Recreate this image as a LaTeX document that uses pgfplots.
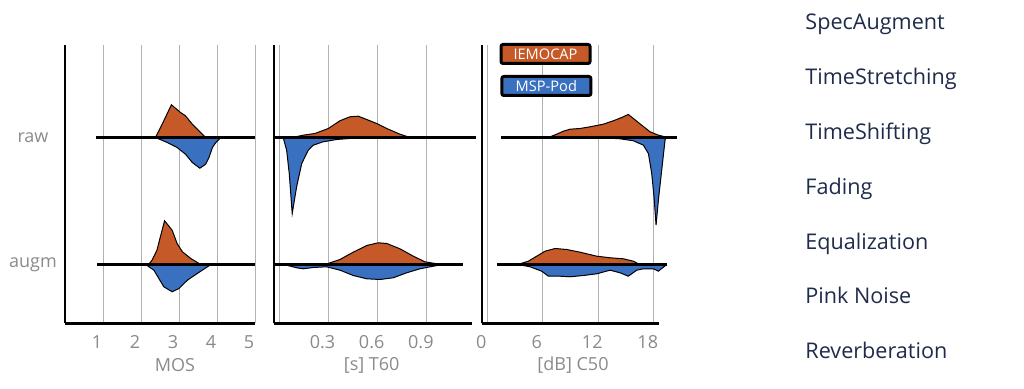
\documentclass[border=0pt]{standalone}
\usepackage{fontspec}
\setmainfont{Open Sans}
\usepackage{pgfplots}
\pgfplotsset{compat=1.18}
\definecolor{iem}{HTML}{C55A28}
\definecolor{msp}{HTML}{3A70C0}
\definecolor{txtgray}{HTML}{8A8A8A}
\definecolor{navy}{HTML}{1F2B4A}
\pgfplotsset{
  panel/.style={
    scale only axis, height=139pt, ymin=0, ymax=278,
    anchor=south west, clip=false,
    axis x line*=bottom, axis y line*=left,
    axis line style={black, line width=1.2pt, -},
    major tick length=0pt,
    xmajorgrids, grid style={black!30, line width=0.5pt},
    tick label style={text=txtgray, font=\fontsize{9}{10}\selectfont},
    /pgf/number format/assume math mode=true,
    xticklabel style={anchor=center, yshift=-9.25pt, xshift=-3pt},
    xlabel style={at={(axis description cs:0.5,0)}, anchor=center, yshift=-21pt,
      text=txtgray, font=\fontsize{9}{10}\selectfont},
  },
  violin/.style={draw=black, line width=0.5pt, fill=#1},
  base/.style={black, line width=1.3pt},
}
\begin{document}
\begin{tikzpicture}
\path[use as bounding box] (0,0) rectangle (512pt,194.5pt);

% ---------------- MOS ----------------
\begin{axis}[panel, at={(32.5pt,32.75pt)}, width=95pt,
  xmin=0, xmax=5, xtick={1,2,3,4,5},
  ytick={59,186}, yticklabels={augm,raw},
  yticklabel style={anchor=center, xshift=-16pt},
  xlabel={MOS}, xlabel style={xshift=7.5pt}]
\addplot[violin=iem] coordinates {(2.38,186) (2.47,192.7) (2.60,202.7) (2.80,218.7) (3.04,211) (3.17,207.7) (3.35,199.3) (3.57,191) (3.70,186)};
\addplot[violin=msp] coordinates {(2.38,186) (2.69,181) (2.95,176) (3.17,169.3) (3.35,161) (3.55,155.3) (3.70,159.3) (3.79,166) (3.88,176) (3.97,181) (4.10,186)};
\addplot[violin=iem] coordinates {(2.20,59) (2.29,63.3) (2.42,73.3) (2.51,86.7) (2.62,102.7) (2.82,93.3) (2.95,80) (3.09,71.7) (3.31,65) (3.57,59)};
\addplot[violin=msp] coordinates {(2.12,59) (2.34,53.3) (2.47,45) (2.60,36.7) (2.82,31.7) (3.00,35) (3.22,43.3) (3.48,50) (3.84,59)};
\addplot[base] coordinates {(0.82,186) (5,186)};
\addplot[base] coordinates {(0.85,59) (5,59)};
\end{axis}

% ---------------- T60 ----------------
\begin{axis}[panel, at={(137pt,32.75pt)}, width=99pt,
  xmin=-0.032, xmax=1.175, xtick={0,0.3,0.6,0.9}, xticklabels={,0.3,0.6,0.9},
  ytick=\empty, xlabel={[s] T60}, xlabel style={xshift=-0.65pt}]
\addplot[violin=iem] coordinates {(0.08,186) (0.146,188.3) (0.218,190) (0.299,195) (0.370,202.7) (0.431,206.7) (0.482,207.3) (0.533,204) (0.594,200) (0.655,195) (0.736,189.3) (0.797,186)};
\addplot[violin=msp] coordinates {(0.024,186) (0.045,173.3) (0.061,150) (0.079,110) (0.106,136.7) (0.137,160) (0.177,173.3) (0.207,178.3) (0.268,181.7) (0.350,184) (0.451,185.3) (0.55,186)};
\addplot[violin=iem] coordinates {(0.28,59) (0.370,64) (0.451,71.3) (0.533,78) (0.604,80.7) (0.655,80) (0.736,74.7) (0.817,67.3) (0.888,61.7) (0.96,59.7) (0.99,59)};
\addplot[violin=msp] coordinates {(0.03,59) (0.045,58.3) (0.106,55.7) (0.146,54.7) (0.207,56) (0.289,56.7) (0.370,53.3) (0.451,48) (0.533,44.7) (0.614,44) (0.695,45.7) (0.777,50.7) (0.858,54.7) (0.939,57.3) (1.0,59)};
\addplot[base] coordinates {(-0.032,186) (1.2,186)};
\addplot[base] coordinates {(-0.026,59) (1.12,59)};
\end{axis}

% ---------------- C50 ----------------
\begin{axis}[panel, at={(240.85pt,32.75pt)}, width=88.8pt,
  xmin=-0.6, xmax=18.6, xtick={0,6,12,18},
  ytick=\empty, xlabel={[dB] C50}, xlabel style={xshift=1.25pt}]
\addplot[violin=iem] coordinates {(6.6,186) (7.51,189.3) (8.23,192.3) (8.95,194.3) (10.03,195) (11.11,196.7) (12.55,199.3) (13.63,202.7) (14.54,206) (15.25,209) (15.80,205) (16.70,198.3) (17.60,191.7) (18.50,188.3) (19.22,186.7) (19.4,186)};
\addplot[violin=msp] coordinates {(12.0,186) (14.36,184.7) (15.80,182.7) (16.88,178.3) (17.42,170) (17.78,150) (18.03,126.7) (18.25,98.3) (18.54,126.7) (18.86,153.3) (19.22,183.3) (19.33,186)};
\addplot[violin=iem] coordinates {(3.3,59) (4.44,62.3) (5.35,67.3) (6.25,72.3) (7.33,75) (8.59,74) (10.03,71.3) (11.84,67.3) (13.28,65.7) (14.71,64.7) (15.80,62.3) (16.34,59.7) (16.6,59)};
\addplot[violin=msp] coordinates {(3.3,59) (4.63,56.7) (5.89,52.3) (6.61,47.3) (7.87,47.3) (8.95,46.7) (10.39,48) (11.84,49.7) (13.28,53.3) (14.36,50.7) (15.25,47.3) (16.16,53.3) (16.88,54.7) (17.96,54.7) (18.50,52.3) (19.41,59)};
\addplot[base] coordinates {(1.46,186) (20.49,186)};
\addplot[base] coordinates {(1.09,59) (19.41,59)};
\node[fill=iem, draw=black, line width=1.5pt, rounded corners=1pt, minimum width=44.5pt,
  minimum height=9.5pt, inner sep=0pt, text=white, font=\fontsize{7.3}{8}\selectfont]
  at (axis cs:6.3,269.5) {IEMOCAP};
\node[fill=msp, draw=black, line width=1.5pt, rounded corners=1pt, minimum width=44.5pt,
  minimum height=9.5pt, inner sep=0pt, text=white, font=\fontsize{7.3}{8}\selectfont]
  at (axis cs:6.39,237.5) {MSP-Pod};
\end{axis}

% ---------------- right list ----------------
\foreach \t/\y in {SpecAugment/179.5, TimeStretching/152.1, TimeShifting/124.7, Fading/97.3, Equalization/69.9, Pink Noise/42.5, Reverberation/15.1}{
  \node[anchor=base west, inner sep=0pt, text=navy, font=\fontsize{10.8}{12}\selectfont] at (402.5pt,\y pt) {\t};
}
\end{tikzpicture}
\end{document}
